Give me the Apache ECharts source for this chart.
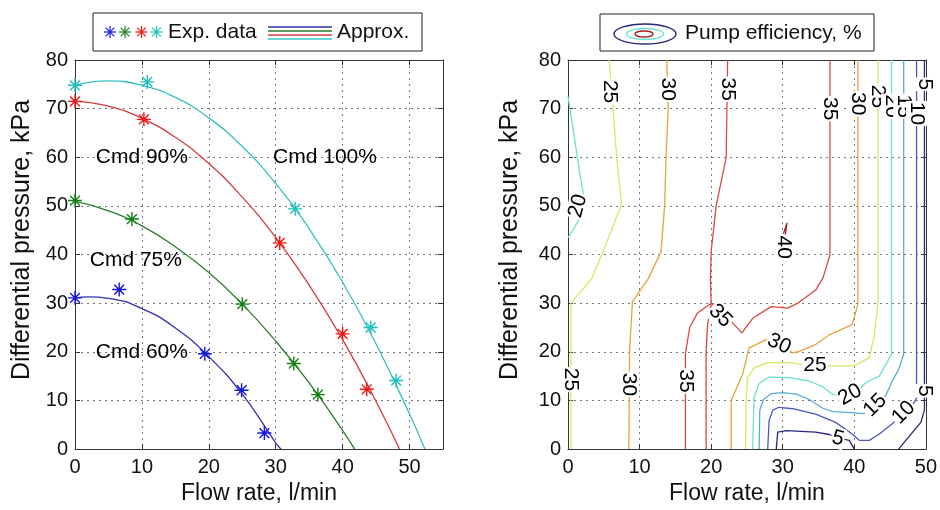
<!DOCTYPE html>
<html>
<head>
<meta charset="utf-8">
<script src="https://cdn.jsdelivr.net/npm/echarts@6/dist/echarts.min.js"></script>
<style>
  html, body { margin: 0; background: #fff; }
  #main { width: 940px; height: 510px; }
</style>
</head>
<body>
<div id="main"></div>
<script>
// ---- left panel: measured points [flow, pressure]
var exp60 = [[0, 31.1], [6.6, 32.8], [19.4, 19.6], [24.9, 12.1], [28.3, 3.3]];
var exp75 = [[0, 51.1], [8.5, 47.3], [25.0, 29.8], [32.7, 17.6], [36.3, 11.2]];
var exp90 = [[0, 71.5], [10.3, 67.8], [30.6, 42.4], [40.0, 23.7], [43.6, 12.3]];
var exp100 = [[0, 74.8], [10.8, 75.5], [32.9, 49.4], [44.2, 25.0], [48.0, 14.1]];

// approximation curves
var fit60 = [[0, 31.1], [2, 31.3], [5, 31.0], [10, 28.9], [15, 24.9], [20, 19.0], [25, 11.3], [30, 1.3], [30.8, 0]];
var fit75 = [[0, 51.0], [5, 49.0], [10, 45.9], [15, 41.6], [20, 36.3], [25, 29.8], [30, 22.2], [35, 13.6], [40, 3.8], [41.8, 0]];
var fit90 = [[0, 71.5], [5, 70.5], [10, 68.0], [15, 64.1], [20, 58.7], [25, 51.8], [30, 43.5], [35, 33.7], [40, 22.5], [45, 9.8], [48.5, 0]];
var fit100 = [[0, 74.8], [5, 75.7], [10, 74.8], [15, 72.3], [20, 68.1], [25, 62.2], [30, 54.6], [35, 45.3], [40, 34.3], [45, 21.6], [50, 7.2], [52.3, 0]];

var cmdLabels = [[3.1, 60, 'Cmd 90%'], [29.6, 60, 'Cmd 100%'], [2.2, 38.8, 'Cmd 75%'], [3.1, 20, 'Cmd 60%']];

// ---- right panel: efficiency contour lines [flow, pressure]
var c5a = [[29.1, 0], [29.3, 3.5], [30.5, 3.8], [34.6, 3.5], [36.5, 3.0], [37.7, 2.3], [39.3, 1.8], [40.0, 0]];
var c5b = [[46.2, 0], [47.6, 2.5], [49.3, 5.5], [49.8, 8], [49.8, 80]];
var c10 = [[27.9, 0], [28.1, 5.9], [28.6, 8.0], [29.5, 8.6], [31.4, 8.3], [34.6, 7.2], [37.4, 5.5], [39.7, 3.1], [40.7, 1.8], [42.1, 1.8], [43.5, 3.1], [45.3, 5.2], [46.9, 7.4], [48.1, 8.9], [48.7, 10.5], [48.7, 80]];
var c15 = [[26.7, 0], [26.8, 8.0], [27.3, 10.2], [28.4, 11.4], [30.0, 11.6], [31.9, 11.3], [33.7, 10.2], [35.6, 8.4], [37.0, 7.7], [39.7, 7.5], [41.4, 7.3], [42.9, 9.0], [44.4, 11.0], [45.3, 14.0], [46.2, 16.4], [46.9, 19.5], [46.9, 80]];
var c20a = [[0, 72.5], [0.8, 65], [1.6, 57], [2.2, 52], [1.8, 48], [0.9, 45.5], [0, 43.5]];
var c20b = [[25.8, 0], [26.0, 10.6], [26.7, 13.5], [28.1, 14.8], [30.9, 14.7], [33.7, 14.0], [35.6, 12.8], [36.9, 11.3], [38.0, 10.8], [39.4, 11.2], [40.8, 12.4], [41.6, 13.7], [43.5, 15.0], [45.2, 19.5], [45.2, 80]];
var c25a = [[5.75, 80], [6.1, 74], [6.3, 70], [6.8, 60], [7.5, 50.4], [4.9, 40.6], [3.3, 35], [0.4, 30], [0.4, 0]];
var c25b = [[24.8, 0], [24.9, 10.6], [25.1, 14.7], [26.0, 16.7], [27.9, 17.8], [30.9, 17.8], [32.5, 17.4], [34.5, 17.3], [37.0, 17.1], [40.0, 17.1], [42.1, 18.8], [42.8, 23.5], [43.3, 30], [43.3, 80]];
var c30a = [[13.8, 80], [14.0, 70], [13.7, 60], [13.5, 50], [13.0, 40.6], [11.2, 35], [9.0, 30.3], [8.6, 20], [8.5, 0]];
var c30b = [[22.8, 0], [22.8, 10], [24.4, 15.4], [25.3, 20.8], [27.7, 22.5], [29.6, 21.3], [31.4, 19.8], [32.3, 20.1], [34.6, 21.5], [36.5, 23.5], [39.7, 25.6], [40.5, 29.7], [40.5, 80]];
var c35a = [[22.3, 80], [22.2, 70], [22.1, 60], [20.7, 50], [20.0, 40.6], [19.9, 35], [20.0, 30], [19.5, 25.6], [19.3, 20], [19.3, 0]];
var c35b = [[16.4, 0], [16.4, 19.6], [17.0, 25], [18.1, 28], [20.0, 30], [22.0, 27.5], [24.3, 23.9], [25.8, 26.9], [28.4, 29.3], [30.7, 29.0], [32.1, 30.0], [34.6, 32.7], [35.6, 35.1], [36.6, 39.9], [36.6, 80]];
var c40 = [[30.3, 43.5], [30.6, 46.5], [30.1, 44.3]];

// [text, flow, pressure, rotation]
var contourLabels = [
  ['25', 5.9, 73.5, -90], ['30', 13.9, 74, -90], ['35', 22.3, 74, -90],
  ['20', 1.4, 50, 75],
  ['25', 0.4, 14.3, -90], ['30', 8.5, 13.3, -90], ['35', 16.4, 14, -90],
  ['35', 21.3, 27.4, -45], ['30', 29.5, 21.6, -25], ['25', 34.5, 17.3, 0],
  ['20', 39.4, 11.2, 30], ['15', 42.9, 9.0, 45], ['10', 46.9, 7.5, 45], ['5', 37.7, 2.2, -15],
  ['40', 30.2, 41.5, -90],
  ['35', 36.6, 70, -90], ['30', 40.5, 71, -90], ['25', 43.3, 72.5, -90], ['20', 45.2, 70.5, -90],
  ['15', 46.9, 70.5, -90], ['10', 48.7, 69, -90], ['5', 49.8, 75, -90], ['5', 49.8, 12, -90]
];

var FONT = '"Liberation Sans", Arial, sans-serif';
var starColors = ['#1515e0', '#158015', '#ee1515', '#20c0c0'];
var fitColors = ['#3030b0', '#2a7d2a', '#d83a3a', '#35c0c0'];
var lvlColor = { 5: '#26267a', 10: '#4a58c0', 15: '#55acd8', 20: '#6ee0d0', 25: '#d4e860', 30: '#e8a43a', 35: '#d84a40', 40: '#a82222' };

var STAR = 'path://M10,0L10,20M0,10L20,10M3,3L17,17M3,17L17,3';

function starG(cx, cy, r, color) {
  var d = r * 0.72;
  var segs = [[cx, cy - r, cx, cy + r], [cx - r, cy, cx + r, cy], [cx - d, cy - d, cx + d, cy + d], [cx - d, cy + d, cx + d, cy - d]];
  return segs.map(function (s) {
    return { type: 'line', shape: { x1: s[0], y1: s[1], x2: s[2], y2: s[3] }, style: { stroke: color, lineWidth: 1.2 } };
  });
}

var chart = echarts.init(document.getElementById('main'));

function mainX(gi, max) {
  return {
    gridIndex: gi, type: 'value', min: 0, max: max, interval: 10,
    name: 'Flow rate, l/min', nameLocation: 'middle', nameGap: 31,
    nameTextStyle: { fontFamily: FONT, fontSize: 23, color: '#111' },
    axisLine: { lineStyle: { color: '#333' } },
    axisTick: { inside: true, length: 5, lineStyle: { color: '#333' } },
    axisLabel: { fontFamily: FONT, fontSize: 20, color: '#111', margin: 8, showMaxLabel: max === 50 },
    splitLine: { show: true, lineStyle: { color: '#777', type: [2, 4] } }
  };
}
function mainY(gi) {
  return {
    gridIndex: gi, type: 'value', min: 0, max: 80, interval: 10,
    axisLine: { lineStyle: { color: '#333' } },
    axisTick: { inside: true, length: 5, lineStyle: { color: '#333' } },
    axisLabel: { fontFamily: FONT, fontSize: 20, color: '#111', margin: 7 },
    splitLine: { show: true, lineStyle: { color: '#777', type: [2, 4] } }
  };
}
function boxAxis(gi, pos, max) {
  return {
    gridIndex: gi, type: 'value', position: pos, min: 0, max: max, interval: 10,
    axisLine: { show: true, onZero: false, lineStyle: { color: '#333' } },
    axisTick: { inside: true, length: 5, lineStyle: { color: '#333' } },
    axisLabel: { show: false }, splitLine: { show: false }
  };
}

var series = [];
[fit60, fit75, fit90, fit100].forEach(function (d, i) {
  series.push({ type: 'line', xAxisIndex: 0, yAxisIndex: 0, data: d, smooth: true, showSymbol: false,
    lineStyle: { color: fitColors[i], width: 1.3 }, z: 3, silent: true });
});
[exp60, exp75, exp90, exp100].forEach(function (d, i) {
  series.push({ type: 'scatter', xAxisIndex: 0, yAxisIndex: 0, data: d, symbol: STAR, symbolSize: 14,
    itemStyle: { color: starColors[i], borderColor: starColors[i], borderWidth: 1.4, opacity: 1 }, z: 4 });
});
series.push({
  type: 'scatter', xAxisIndex: 0, yAxisIndex: 0, symbolSize: 0, z: 5, itemStyle: { opacity: 1 },
  data: cmdLabels.map(function (c) { return { value: [c[0], c[1]], name: c[2] }; }),
  label: { show: true, position: 'right', distance: 0, formatter: '{b}', fontFamily: FONT, fontSize: 21, color: '#000' }
});

var contours = [[c5a, 5], [c5b, 5], [c10, 10], [c15, 15], [c20a, 20], [c20b, 20], [c25a, 25], [c25b, 25],
  [c30a, 30], [c30b, 30], [c35a, 35], [c35b, 35], [c40, 40]];
contours.forEach(function (c) {
  series.push({ type: 'line', xAxisIndex: 2, yAxisIndex: 2, data: c[0], showSymbol: false, smooth: false,
    lineStyle: { color: lvlColor[c[1]], width: 1.3 }, z: 3, silent: true });
});
series.push({
  type: 'scatter', xAxisIndex: 2, yAxisIndex: 2, symbolSize: 0, z: 6, itemStyle: { opacity: 1 },
  data: contourLabels.map(function (l) {
    return { value: [l[1], l[2]], name: l[0], label: { rotate: l[3] } };
  }),
  label: { show: true, position: 'inside', formatter: '{b}', fontFamily: FONT, fontSize: 21, color: '#000',
    backgroundColor: '#fff', padding: [0, 1] }
});

var nameStyle = { text: 'Differential pressure, kPa', fontFamily: FONT, fontSize: 25, fill: '#111', textAlign: 'center', textVerticalAlign: 'middle' };
var graphic = [
  { type: 'text', x: 22, y: 240, rotation: Math.PI / 2, style: nameStyle },
  { type: 'text', x: 510, y: 240, rotation: Math.PI / 2, style: nameStyle },
  { type: 'rect', shape: { x: 93, y: 13, width: 329, height: 38 }, style: { fill: '#fff', stroke: '#222', lineWidth: 1 } },
  { type: 'text', x: 168, y: 32, style: { text: 'Exp. data', fontFamily: FONT, fontSize: 21, fill: '#111', textVerticalAlign: 'middle' } },
  { type: 'text', x: 337, y: 32, style: { text: 'Approx.', fontFamily: FONT, fontSize: 21, fill: '#111', textVerticalAlign: 'middle' } },
  { type: 'rect', shape: { x: 600, y: 14, width: 274, height: 37 }, style: { fill: '#fff', stroke: '#222', lineWidth: 1 } },
  { type: 'ellipse', shape: { cx: 645, cy: 34, rx: 31, ry: 10 }, style: { fill: 'none', stroke: lvlColor[5], lineWidth: 1.4 } },
  { type: 'ellipse', shape: { cx: 645, cy: 34, rx: 18.5, ry: 5.5 }, style: { fill: 'none', stroke: lvlColor[20], lineWidth: 1.4 } },
  { type: 'ellipse', shape: { cx: 644, cy: 34, rx: 9, ry: 3 }, style: { fill: 'none', stroke: lvlColor[40], lineWidth: 1.4 } },
  { type: 'text', x: 685, y: 33, style: { text: 'Pump efficiency, %', fontFamily: FONT, fontSize: 21, fill: '#111', textVerticalAlign: 'middle' } }
];
[110, 125, 141.5, 156.5].forEach(function (x, i) {
  graphic = graphic.concat(starG(x, 32, 6, starColors[i]));
});
[27, 31, 35, 39].forEach(function (y, i) {
  graphic.push({ type: 'line', shape: { x1: 268, y1: y, x2: 332, y2: y }, style: { stroke: fitColors[i], lineWidth: 1.3 } });
});

chart.setOption({
  backgroundColor: '#ffffff',
  animation: false,
  grid: [
    { left: 75, top: 60, width: 368, height: 392 },
    { left: 568, top: 60, width: 359, height: 392 }
  ],
  xAxis: [mainX(0, 55), boxAxis(0, 'top', 55), mainX(1, 50), boxAxis(1, 'top', 50)],
  yAxis: [mainY(0), boxAxis(0, 'right', 80), mainY(1), boxAxis(1, 'right', 80)],
  series: series,
  graphic: graphic
});
</script>
</body>
</html>
